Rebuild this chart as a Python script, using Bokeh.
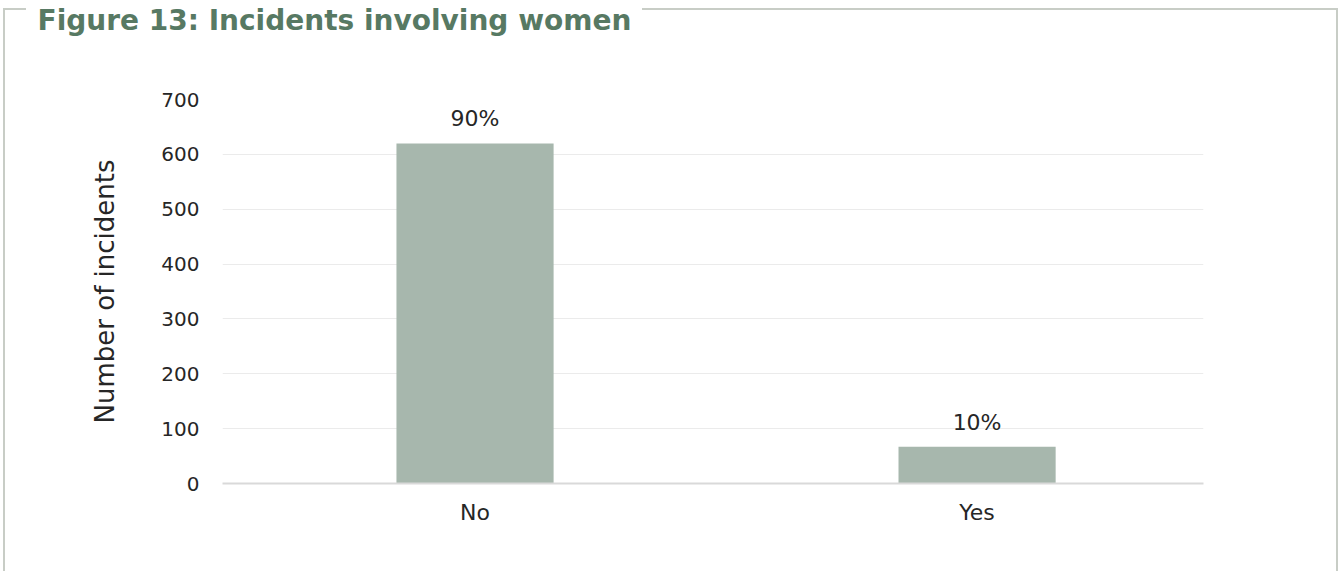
from bokeh.plotting import figure
from bokeh.models import (ColumnDataSource, Range1d, FixedTicker, LabelSet,
                          InlineStyleSheet, Title)
from bokeh.core.properties import value
from bokeh.embed import file_html
from bokeh.resources import INLINE

categories = ["No", "Yes"]
counts = [620, 67]
pct_labels = ["90%", "10%"]
y_ticks = [0, 100, 200, 300, 400, 500, 600, 700]
title_text = "Figure 13: Incidents involving women"

FONT = "DejaVu Sans"
TXT = "#262626"
W, H = 1339, 571
FL, FR, FT, FB = 222, 136, 99, 88   # frame borders (px)

xs = list(range(len(categories)))
src = ColumnDataSource(dict(x=xs, top=counts, lab=pct_labels))

p = figure(width=W, height=H, output_backend="svg", toolbar_location=None,
           x_range=Range1d(-0.503, 1.451), y_range=Range1d(0, 700),
           min_border_left=FL, min_border_right=FR, min_border_top=FT,
           min_border_bottom=FB, tools="")
p.outline_line_color = None
p.background_fill_color = "white"
p.border_fill_color = None

p.vbar(x="x", top="top", width=0.313, source=src, fill_color="#a7b7ad",
       line_color=None)

p.add_layout(LabelSet(x="x", y="top", text="lab", source=src, text_align="center",
                      text_baseline="bottom", y_offset=12, text_font_size="22px",
                      text_font=value(FONT), text_color=TXT))

p.xgrid.grid_line_color = None
p.ygrid.grid_line_color = "#ebebeb"
p.ygrid.grid_line_width = 1
p.ygrid.ticker = FixedTicker(ticks=y_ticks)

p.yaxis.ticker = FixedTicker(ticks=y_ticks)
p.yaxis.axis_line_color = None
p.yaxis.major_tick_line_color = None
p.yaxis.minor_tick_line_color = None
p.yaxis.major_label_standoff = 17
p.yaxis.major_label_text_font = FONT
p.yaxis.major_label_text_font_size = "20px"
p.yaxis.major_label_text_color = TXT
p.yaxis.axis_label = "Number of incidents"
p.yaxis.axis_label_text_font = FONT
p.yaxis.axis_label_text_font_size = "26px"
p.yaxis.axis_label_text_font_style = "normal"
p.yaxis.axis_label_text_color = TXT
p.yaxis.axis_label_standoff = 38

p.xaxis.ticker = FixedTicker(ticks=xs)
p.xaxis.major_label_overrides = {i: c for i, c in zip(xs, categories)}
p.xaxis.axis_line_color = "#d9d9d9"
p.xaxis.axis_line_width = 2
p.xaxis.major_tick_line_color = None
p.xaxis.minor_tick_line_color = None
p.xaxis.major_label_standoff = 10
p.xaxis.major_label_text_font = FONT
p.xaxis.major_label_text_font_size = "22px"
p.xaxis.major_label_text_color = TXT

# invisible spacer next to the frame pushes the real title to the canvas top
p.add_layout(Title(text=" ", text_font_size="10px", standoff=50,
                   text_color="white"), "above")
p.add_layout(Title(text=title_text, text_font=FONT, text_font_size="28px",
                   text_font_style="bold", text_color="#577963", align="left",
                   offset=37 - FL, standoff=0, padding=0), "above")

# frame box (open at the bottom, gap for the title) behind the transparent canvas
line = "linear-gradient(#c8cdc6, #c8cdc6)"
css = (":host { position: relative; }\n"
       ":host::before { content: ''; position: absolute; left: 3px; top: 8px; "
       "width: 1335px; height: 563px; box-sizing: border-box; "
       "border-left: 2px solid #c8cdc6; border-right: 2px solid #c8cdc6; "
       f"background: {line} no-repeat 0 0 / 21px 2px, "
       f"{line} no-repeat 637px 0 / 100% 2px; pointer-events: none; }}")
p.stylesheets = [InlineStyleSheet(css=css)]

open("out.html", "w").write(file_html(p, INLINE))
